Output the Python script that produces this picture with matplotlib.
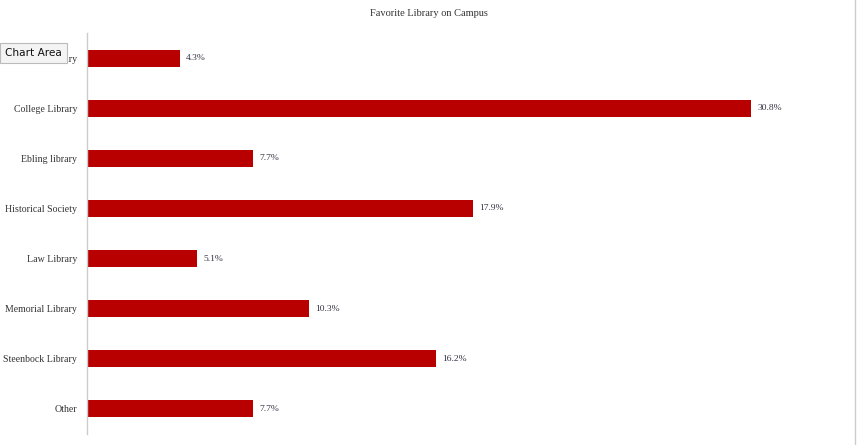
import matplotlib
matplotlib.use("Agg")
import matplotlib.pyplot as plt
from matplotlib.lines import Line2D

categories = ["Business Library", "College Library", "Ebling library", "Historical Society",
              "Law Library", "Memorial Library", "Steenbock Library", "Other"]
values = [4.3, 30.8, 7.7, 17.9, 5.1, 10.3, 16.2, 7.7]
title = "Favorite Library on Campus"

W, H = 857, 445
fig = plt.figure(figsize=(W / 100, H / 100), dpi=100)
ax = fig.add_axes([87 / W, 1 - 434 / H, (840 - 87) / W, (434 - 33) / H])

ypos = list(range(len(categories)))
ax.barh(ypos, values, height=0.34, color="#B90000")
ax.set_ylim(len(categories) - 0.5, -0.5)
ax.set_xlim(0, 34.95)
ax.set_yticks(ypos)
ax.set_yticklabels(categories, fontfamily="Liberation Serif", fontsize=7.1, color="#333333")
ax.tick_params(axis="y", length=0, pad=7)
ax.set_xticks([])
for s in ["top", "right", "bottom"]:
    ax.spines[s].set_visible(False)
ax.spines["left"].set_color("#cccccc")
ax.spines["left"].set_linewidth(1)

for y, v in zip(ypos, values):
    ax.text(v + 0.3, y, f"{v}%", va="center", ha="left", fontfamily="Liberation Serif",
            fontsize=6.8, color="#333344")

fig.text(0.5, 1 - 13 / H, title, ha="center", va="center", fontfamily="Liberation Serif",
         fontsize=7.5, color="#333333")

# window border line at right
fig.add_artist(Line2D([855 / W, 855 / W], [0, 1], color="#cccccc", lw=1))

# tooltip overlay
fig.text(5 / W, 1 - 53 / H, "Chart Area", ha="left", va="center", fontfamily="DejaVu Sans",
         fontsize=7.6, color="#111111",
         bbox=dict(boxstyle="square,pad=0.5", fc="#f4f4f4", ec="#bbbbbb", lw=0.8))

fig.savefig("out.png", dpi=100)
